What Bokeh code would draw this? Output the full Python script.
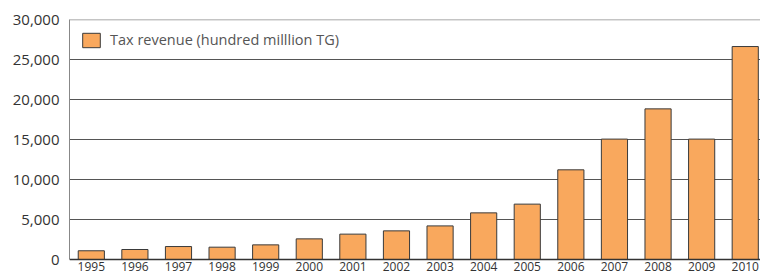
from bokeh.plotting import figure
from bokeh.models import ColumnDataSource, Range1d, FixedTicker, Span, Legend, LegendItem, NumeralTickFormatter
from bokeh.core.properties import value
from bokeh.embed import file_html
from bokeh.resources import INLINE

years = ["1995", "1996", "1997", "1998", "1999", "2000", "2001", "2002",
         "2003", "2004", "2005", "2006", "2007", "2008", "2009", "2010"]
tax_revenue = [1090, 1250, 1620, 1540, 1830, 2580, 3170, 3580,
               4200, 5830, 6920, 11210, 15050, 18830, 15050, 26620]
y_ticks = [0, 5000, 10000, 15000, 20000, 25000, 30000]
series_name = "Tax revenue (hundred milllion TG)"

idx = list(range(len(years)))
src = ColumnDataSource(dict(x=idx, top=tax_revenue, label=years, base=[0] * len(years)))

FONT = "Open Sans"

p = figure(width=760, height=273, output_backend="svg", toolbar_location=None,
           x_range=Range1d(-0.5, 15.35), y_range=Range1d(-1750, 30000),
           x_axis_location=None, min_border_left=69, min_border_right=0,
           min_border_top=19, min_border_bottom=0)
p.background_fill_color = "white"
p.border_fill_color = "white"
p.outline_line_color = None

bars = p.vbar(x="x", top="top", width=0.6, source=src, fill_color="#F9A85D",
              line_color="#3a3a3a", line_width=1)

# year labels under the baseline
p.text(x="x", y="base", text="label", source=src, text_align="center",
       text_baseline="top", y_offset=2, text_font=value(FONT),
       text_font_size="12px", text_color="#333333")

p.yaxis.ticker = FixedTicker(ticks=y_ticks)
p.yaxis.formatter = NumeralTickFormatter(format="0,0")
p.yaxis.bounds = (0, 30000)
p.yaxis.axis_line_color = "#888888"
p.yaxis.major_tick_line_color = None
p.yaxis.minor_tick_line_color = None
p.yaxis.major_tick_out = 0
p.yaxis.major_tick_in = 0
p.yaxis.major_label_standoff = 10
p.yaxis.major_label_text_font = FONT
p.yaxis.major_label_text_font_size = "15px"
p.yaxis.major_label_text_color = "#333333"

p.xgrid.visible = False
p.ygrid.ticker = FixedTicker(ticks=[5000, 10000, 15000, 20000, 25000])
p.ygrid.grid_line_color = "#555555"
p.ygrid.grid_line_width = 1

top_line = Span(location=30000, dimension="width", line_color="#8a8a8a", line_width=1.5)
base_line = Span(location=0, dimension="width", line_color="#333333", line_width=1.5)
p.add_layout(top_line)
p.add_layout(base_line)

legend = Legend(items=[LegendItem(label=series_name, renderers=[bars])],
                location="top_left", margin=11, padding=10,
                glyph_width=22, glyph_height=18, label_standoff=8,
                label_text_font=FONT, label_text_font_size="14.5px",
                label_text_color="#555555", border_line_color=None,
                background_fill_alpha=0)
p.add_layout(legend)

open("out.html", "w").write(file_html(p, INLINE))
